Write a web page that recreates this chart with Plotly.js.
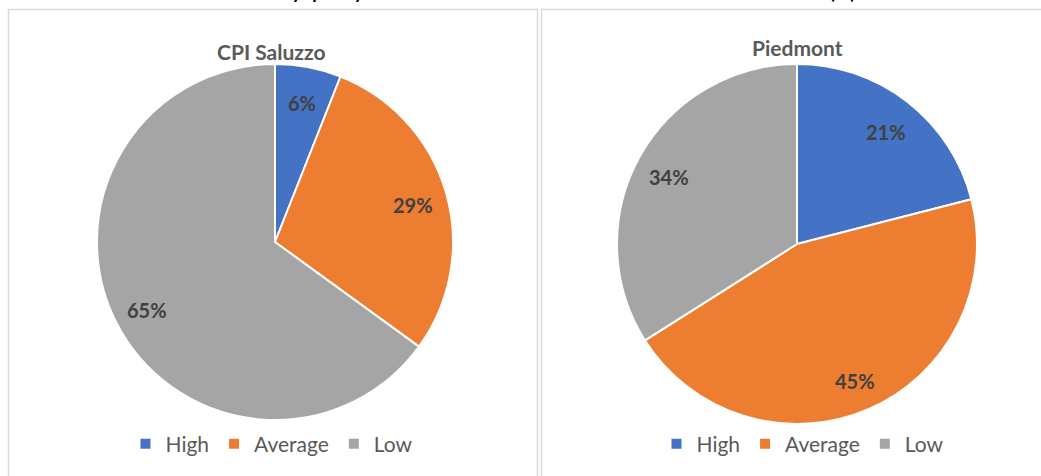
<!DOCTYPE html>
<html>
<head>
<meta charset="utf-8">
<script src="https://cdn.plot.ly/plotly-3.0.1.min.js"></script>
<style>html,body{margin:0;padding:0;background:#fff;}#chart{width:1041px;height:476px;}</style>
</head>
<body>
<div id="chart"></div>
<script>
// ---- data ----
const categories = ["High", "Average", "Low"];
const saluzzoValues = [6, 29, 65];
const piedmontValues = [21, 45, 34];
const panelTitles = ["CPI Saluzzo", "Piedmont"];
const mainTitle = "Settlements by quality of the residential context in CPI Saluzzo and Piedmont (%) 2019";
const colors = ["#4472C4", "#ED7D31", "#A5A5A5"];

const W = 1041, H = 476;
const FONT = "Lato, 'Open Sans', sans-serif";

// pie geometry (pixels)
const pies = [
  {vals: saluzzoValues, cx: 275, cy: 242, r: 178, legend: "legend", suffix: ""},
  {vals: piedmontValues, cx: 797, cy: 244, r: 180, legend: "legend2", suffix: "\u200b"}
];

const traces = pies.map((p, i) => ({
  type: "pie",
  labels: categories.map(c => c + p.suffix),
  values: p.vals,
  sort: false,
  direction: "clockwise",
  rotation: 0,
  marker: {colors: colors, line: {color: "#ffffff", width: 2}},
  textinfo: "none",
  hoverinfo: "label+percent",
  domain: {x: [(p.cx - p.r) / W, (p.cx + p.r) / W], y: [1 - (p.cy + p.r) / H, 1 - (p.cy - p.r) / H]},
  legend: p.legend,
  showlegend: true
}));

const annotations = [];
// slice labels computed from data
pies.forEach(p => {
  const total = p.vals.reduce((a, b) => a + b, 0);
  let cum = 0;
  p.vals.forEach(v => {
    const mid = (cum + v / 2) / total * 2 * Math.PI;
    cum += v;
    const rr = p.r * 0.81;
    const px = p.cx + rr * Math.sin(mid);
    const py = p.cy - rr * Math.cos(mid);
    annotations.push({
      xref: "paper", yref: "paper", x: px / W, y: 1 - py / H,
      xanchor: "center", yanchor: "middle", showarrow: false, yshift: -3,
      text: "<b>" + Math.round(v / total * 100) + "%</b>",
      font: {family: FONT, size: 20, color: "#404040"}
    });
  });
});
// panel titles
annotations.push({xref: "paper", yref: "paper", x: 271 / W, y: 1 - 50 / H, xanchor: "center", yanchor: "middle", yshift: -2,
  showarrow: false, text: "<b>" + panelTitles[0] + "</b>", font: {family: FONT, size: 21, color: "#595959"}});
annotations.push({xref: "paper", yref: "paper", x: 797 / W, y: 1 - 46 / H, xanchor: "center", yanchor: "middle", yshift: -2,
  showarrow: false, text: "<b>" + panelTitles[1] + "</b>", font: {family: FONT, size: 21, color: "#595959"}});
// main title (mostly cut off at the top, as in the reference)
annotations.push({xref: "paper", yref: "paper", x: 540 / W, y: 1, xanchor: "center", yanchor: "middle", yshift: 9,
  showarrow: false, text: "<b>" + mainTitle + "</b>", font: {family: FONT, size: 19, color: "#000000"}});

const legendBase = {
  orientation: "h", xanchor: "center", yanchor: "middle", bgcolor: "rgba(0,0,0,0)",
  font: {family: FONT, size: 21, color: "#595959"}, itemclick: false, itemdoubleclick: false
};

const layout = {
  width: W, height: H,
  margin: {l: 0, r: 0, t: 0, b: 0},
  paper_bgcolor: "#ffffff",
  plot_bgcolor: "#ffffff",
  showlegend: true,
  legend: Object.assign({}, legendBase, {x: 272 / W, y: 1 - 444 / H}),
  legend2: Object.assign({}, legendBase, {x: 803 / W, y: 1 - 444 / H}),
  annotations: annotations,
  shapes: [
    {type: "rect", xref: "paper", yref: "paper", x0: 8.5 / W, x1: 537.5 / W, y0: -0.02, y1: 1 - 9.5 / H,
      line: {color: "#d9d9d9", width: 1.5}, fillcolor: "rgba(0,0,0,0)", layer: "below"},
    {type: "rect", xref: "paper", yref: "paper", x0: 541.5 / W, x1: 1.01, y0: -0.02, y1: 1 - 9.5 / H,
      line: {color: "#d9d9d9", width: 1.5}, fillcolor: "rgba(0,0,0,0)", layer: "below"}
  ]
};

Plotly.newPlot("chart", traces, layout, {displayModeBar: false, staticPlot: true});
</script>
</body>
</html>
